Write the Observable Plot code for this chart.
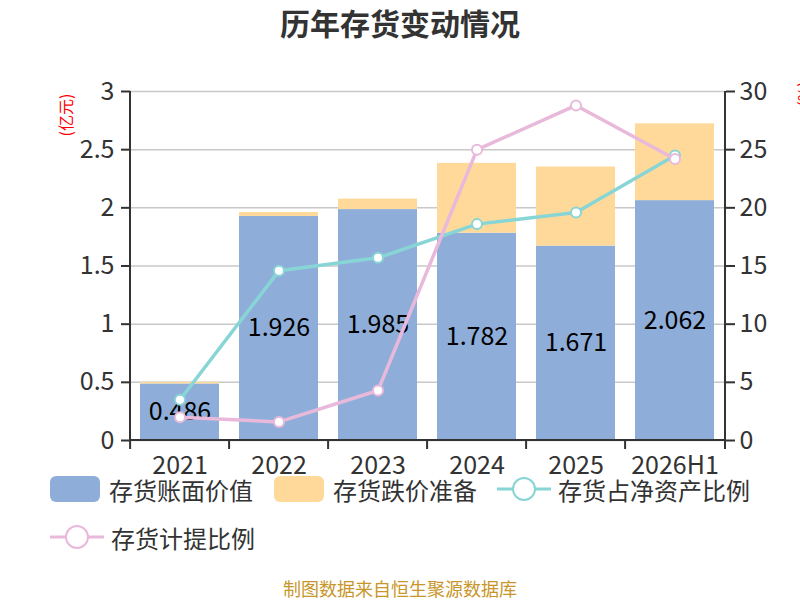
<!DOCTYPE html>
<html><head><meta charset="utf-8">
<script src="https://cdn.jsdelivr.net/npm/d3@7"></script>
<script src="https://cdn.jsdelivr.net/npm/@observablehq/plot@0.6"></script>
<style>
body{margin:0;background:#fff;font-family:"Noto Sans CJK SC","Noto Sans",sans-serif;}
#wrap{position:relative;width:800px;height:600px;overflow:hidden;background:#fff}
#title{position:absolute;top:0;left:0;width:800px;text-align:center;font-size:30px;font-weight:bold;color:#333;line-height:44px}
#chart{position:absolute;top:0;left:0}
.lab{position:absolute;color:#f00;font-size:16px;line-height:20px;white-space:nowrap}
.item{position:absolute;height:30px;display:flex;align-items:center;font-size:24px;color:#333;white-space:nowrap}
.sw{width:50px;height:26px;border-radius:6px;margin-right:9px}
#caption{position:absolute;top:577px;left:0;width:800px;text-align:center;font-size:18px;line-height:22px;color:#c8962a}
</style></head>
<body><div id="wrap">
<div id="title">历年存货变动情况</div>
<div id="chart"></div>
<div class="lab" style="left:44px;top:105px;transform:rotate(-90deg);transform-origin:center;">(亿元)</div>
<div class="lab" style="left:790px;top:84px;transform:rotate(-90deg);transform-origin:center;">(%)</div>
<div id="legend"></div>
<div id="caption">制图数据来自恒生聚源数据库</div>
</div>
<script>
const years = ["2021","2022","2023","2024","2025","2026H1"];
const bookValue = [0.486,1.926,1.985,1.782,1.671,2.062];
const impairment = [0.014,0.034,0.09,0.60,0.68,0.66];
const netAssetRatio = [3.5,14.6,15.7,18.6,19.6,24.5];
const provisionRatio = [2.0,1.6,4.3,25.0,28.8,24.2];
const types = ["存货账面价值","存货跌价准备"];
const lineNames = ["存货占净资产比例","存货计提比例"];
const yTicks = [0,0.5,1,1.5,2,2.5,3];

const blue = "#8eaed9", orange = "#ffd999", teal = "#88d5d6", pink = "#e8b9da";

const data = years.map((year,i)=>({year, book:bookValue[i], imp:impairment[i], net:netAssetRatio[i], prov:provisionRatio[i]}));
const stacked = years.flatMap((year,i)=>[
  {year, type:types[0], value:bookValue[i]},
  {year, type:types[1], value:impairment[i]}
]);
const fmt = d3.format(".3f");

function decor(index, scales, values, dims) {
  const x = scales.x, y = scales.y;
  const left = dims.marginLeft, right = dims.width - dims.marginRight;
  const top = y(3), bottom = y(0);
  let bounds;
  if (typeof x === "function") {
    const step = x(years[1]) - x(years[0]);
    bounds = years.map(yr => x(yr) - step*0.1);
    bounds.push(right);
  } else {
    bounds = d3.range(7).map(k => left + k*(right-left)/6);
  }
  const g = d3.create("svg:g").attr("stroke","#333").attr("stroke-width",2).attr("fill","none");
  g.append("line").attr("x1",left).attr("x2",left).attr("y1",top).attr("y2",bottom);
  g.append("line").attr("x1",right).attr("x2",right).attr("y1",top).attr("y2",bottom);
  g.append("line").attr("x1",left-1).attr("x2",right+1).attr("y1",bottom).attr("y2",bottom);
  for (const b of bounds) g.append("line").attr("x1",b).attr("x2",b).attr("y1",bottom).attr("y2",bottom+9);
  return g.node();
}

const chart = Plot.plot({
  width: 800, height: 470,
  marginTop: 91, marginBottom: 30, marginLeft: 130, marginRight: 75,
  style: {fontFamily:'"Noto Sans CJK SC","Noto Sans",sans-serif', fontSize:"25px", color:"#333", background:"transparent", overflow:"visible"},
  x: {domain: years, paddingInner: 0.2, paddingOuter: 0.1},
  y: {domain: [0,3]},
  color: {domain: types, range: [blue, orange]},
  marks: [
    Plot.gridY(yTicks, {stroke:"#c8c8c8", strokeOpacity:1, strokeWidth:1.5}),
    Plot.barY(stacked, {x:"year", y:"value", fill:"type"}),
    Plot.text(data, {x:"year", y:d=>d.book/2, text:d=>fmt(d.book), fontSize:25, fill:"#000"}),
    Plot.line(data, {x:"year", y:d=>d.net/10, stroke:teal, strokeWidth:3.5}),
    Plot.dot(data, {x:"year", y:d=>d.net/10, r:5, fill:"#fff", stroke:teal, strokeWidth:2}),
    Plot.line(data, {x:"year", y:d=>d.prov/10, stroke:pink, strokeWidth:3.5}),
    Plot.dot(data, {x:"year", y:d=>d.prov/10, r:5, fill:"#fff", stroke:pink, strokeWidth:2}),
    Plot.axisY(yTicks, {anchor:"left", tickSize:9, tickPadding:7, fontSize:25, label:null, strokeWidth:2, tickFormat:d=>String(d)}),
    Plot.axisY(yTicks, {anchor:"right", tickSize:9, tickPadding:5, fontSize:25, label:null, strokeWidth:2, tickFormat:d=>String(Math.round(d*10))}),
    Plot.axisX({tickSize:0, tickPadding:16, fontSize:25, label:null}),
    decor
  ]
});
document.getElementById("chart").appendChild(chart);

const legend = document.getElementById("legend");
function addItem(left, top, html, text) {
  const d = document.createElement("div");
  d.className = "item";
  d.style.left = left + "px"; d.style.top = top + "px";
  d.innerHTML = html + "<span>" + text + "</span>";
  legend.appendChild(d);
}
const lineIcon = c => `<svg width="54" height="30" style="margin-right:7px"><line x1="0" x2="54" y1="15" y2="15" stroke="${c}" stroke-width="3"/><circle cx="27" cy="15" r="11" fill="#fff" stroke="${c}" stroke-width="2"/></svg>`;
addItem(50, 474, `<div class="sw" style="background:${blue}"></div>`, types[0]);
addItem(274, 474, `<div class="sw" style="background:${orange}"></div>`, types[1]);
addItem(497, 474, lineIcon(teal), lineNames[0]);
addItem(50, 522, lineIcon(pink), lineNames[1]);
</script>
</body></html>
